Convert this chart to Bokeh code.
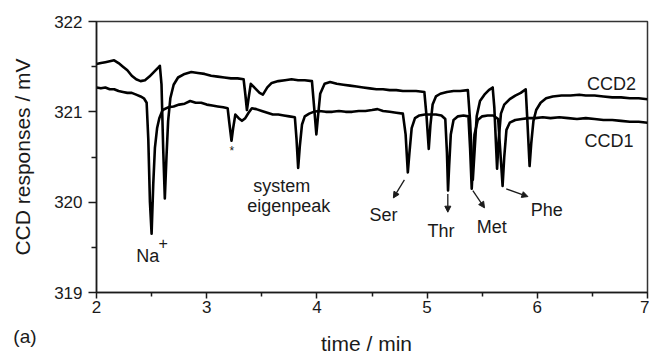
import math
from bokeh.plotting import figure
from bokeh.models import Range1d, Label, Arrow, NormalHead, FixedTicker
from bokeh.embed import file_html
from bokeh.resources import INLINE

# ---------------- data ----------------
t1 = [2.00, 2.04, 2.08, 2.12, 2.16, 2.20, 2.24, 2.28, 2.32, 2.36, 2.40, 2.43, 2.455, 2.47, 2.485,
      2.50, 2.515, 2.53, 2.55, 2.57, 2.60, 2.65, 2.70, 2.75, 2.80, 2.85, 2.90, 2.95, 3.00, 3.05,
      3.10, 3.15, 3.19, 3.205, 3.225, 3.24, 3.26, 3.29, 3.32, 3.35, 3.38, 3.41, 3.45, 3.50, 3.55,
      3.60, 3.65, 3.70, 3.75, 3.80, 3.815, 3.83, 3.845, 3.865, 3.89, 3.93, 3.97, 4.02, 4.08, 4.14,
      4.20, 4.26, 4.32, 4.38, 4.44, 4.50, 4.55, 4.60, 4.66, 4.72, 4.78, 4.805, 4.825, 4.84, 4.86,
      4.89, 4.93, 4.98, 5.03, 5.08, 5.13, 5.165, 5.18, 5.19, 5.20, 5.215, 5.24, 5.28, 5.33, 5.375,
      5.39, 5.405, 5.415, 5.43, 5.46, 5.50, 5.55, 5.60, 5.645, 5.665, 5.685, 5.70, 5.72, 5.75, 5.80,
      5.86, 5.92, 5.98, 6.05, 6.12, 6.20, 6.28, 6.36, 6.44, 6.52, 6.60, 6.68, 6.76, 6.84, 6.92, 7.00]
ccd1 = [321.27, 321.26, 321.27, 321.25, 321.25, 321.23, 321.22, 321.21, 321.21, 321.19, 321.17, 321.15,
        321.10, 320.70, 320.00, 319.65, 320.20, 320.60, 320.82, 320.93, 321.02, 321.05, 321.06, 321.08,
        321.09, 321.12, 321.10, 321.10, 321.08, 321.07, 321.06, 321.05, 321.04, 320.88, 320.68, 320.82,
        320.97, 320.93, 320.90, 320.93, 320.99, 321.04, 321.03, 321.01, 320.99, 320.97, 320.97, 320.96,
        320.95, 320.94, 320.70, 320.38, 320.62, 320.86, 320.95, 320.98, 321.00, 321.01, 321.00, 321.00,
        321.01, 321.00, 321.00, 321.01, 321.01, 321.02, 321.03, 321.01, 321.00, 320.99, 320.98, 320.75,
        320.33, 320.55, 320.82, 320.93, 320.96, 320.97, 320.97, 320.97, 320.96, 320.92, 320.55, 320.13,
        320.40, 320.75, 320.91, 320.95, 320.96, 320.95, 320.60, 320.15, 320.40, 320.75, 320.91, 320.95,
        320.96, 320.96, 320.92, 320.55, 320.18, 320.50, 320.80, 320.88, 320.91, 320.92, 320.93, 320.93,
        320.94, 320.93, 320.94, 320.93, 320.92, 320.93, 320.92, 320.91, 320.91, 320.90, 320.89, 320.89,
        320.88]

t2 = [2.00, 2.04, 2.08, 2.12, 2.16, 2.20, 2.24, 2.28, 2.32, 2.36, 2.40, 2.44, 2.48, 2.52, 2.56, 2.575,
      2.59, 2.605, 2.62, 2.635, 2.65, 2.67, 2.70, 2.74, 2.80, 2.86, 2.92, 2.98, 3.04, 3.10, 3.16, 3.22,
      3.28, 3.335, 3.35, 3.365, 3.38, 3.40, 3.44, 3.48, 3.51, 3.55, 3.59, 3.65, 3.71, 3.77, 3.83, 3.89,
      3.955, 3.975, 3.995, 4.01, 4.03, 4.07, 4.12, 4.18, 4.24, 4.30, 4.36, 4.42, 4.48, 4.54, 4.60, 4.66,
      4.72, 4.78, 4.84, 4.90, 4.975, 4.995, 5.015, 5.03, 5.05, 5.08, 5.12, 5.18, 5.24, 5.30, 5.37, 5.39,
      5.415, 5.43, 5.45, 5.48, 5.52, 5.56, 5.595, 5.61, 5.635, 5.65, 5.67, 5.70, 5.75, 5.80, 5.85, 5.895,
      5.91, 5.93, 5.945, 5.965, 5.99, 6.03, 6.08, 6.14, 6.22, 6.30, 6.38, 6.44, 6.52, 6.60, 6.68, 6.76,
      6.84, 6.92, 7.00]
ccd2 = [321.53, 321.54, 321.55, 321.56, 321.57, 321.54, 321.50, 321.46, 321.40, 321.36, 321.34, 321.35,
        321.39, 321.44, 321.49, 321.51, 321.30, 320.60, 320.04, 320.50, 320.90, 321.15, 321.30, 321.38,
        321.42, 321.44, 321.43, 321.42, 321.40, 321.39, 321.38, 321.37, 321.37, 321.36, 321.20, 321.02,
        321.15, 321.31, 321.26, 321.21, 321.19, 321.27, 321.32, 321.34, 321.35, 321.36, 321.35, 321.35,
        321.34, 321.05, 320.75, 320.95, 321.20, 321.31, 321.33, 321.31, 321.30, 321.29, 321.28, 321.27,
        321.26, 321.25, 321.25, 321.24, 321.24, 321.23, 321.23, 321.23, 321.22, 320.95, 320.59, 320.85,
        321.08, 321.17, 321.20, 321.22, 321.23, 321.23, 321.24, 320.90, 320.25, 320.55, 320.95, 321.12,
        321.19, 321.24, 321.27, 321.05, 320.37, 320.70, 320.98, 321.08, 321.14, 321.18, 321.21, 321.25,
        320.90, 320.40, 320.65, 320.90, 321.02, 321.10, 321.15, 321.17, 321.18, 321.18, 321.19, 321.18,
        321.18, 321.17, 321.16, 321.16, 321.15, 321.15, 321.14]

x_ticks = [2, 3, 4, 5, 6, 7]
x_minor = [2.5, 3.5, 4.5, 5.5, 6.5]
y_ticks = [319, 320, 321, 322]
y_minor = [319.5, 320.5, 321.5]

peak_labels = ["Na", "+", "*", "system", "eigenpeak", "Ser", "Thr", "Met", "Phe", "CCD2", "CCD1"]

# ---------------- figure ----------------
FONT = "Liberation Sans"
INK = "#1a1a1a"

p = figure(width=649, height=356, output_backend="svg", toolbar_location=None,
           x_range=Range1d(2, 7), y_range=Range1d(319, 322),
           min_border_left=96, min_border_right=2, min_border_top=20, min_border_bottom=64)
p.background_fill_color = "white"
p.border_fill_color = "white"
p.grid.visible = False
p.outline_line_color = "#333333"
p.outline_line_width = 1.5

p.xaxis.ticker = FixedTicker(ticks=x_ticks, minor_ticks=x_minor)
p.yaxis.ticker = FixedTicker(ticks=y_ticks, minor_ticks=y_minor)
for ax in (p.xaxis[0], p.yaxis[0]):
    ax.axis_line_color = INK
    ax.axis_line_width = 1.5
    ax.major_tick_line_color = INK
    ax.major_tick_line_width = 1.5
    ax.minor_tick_line_color = INK
    ax.minor_tick_line_width = 1.5
    ax.major_tick_in = 0
    ax.minor_tick_in = 0
    ax.major_label_text_font = FONT
    ax.major_label_text_font_size = "17px"
    ax.major_label_text_color = INK
    ax.axis_label_text_font = FONT
    ax.axis_label_text_font_size = "21px"
    ax.axis_label_text_font_style = "normal"
    ax.axis_label_text_color = INK
p.xaxis.major_tick_out = 6
p.xaxis.minor_tick_out = 4
p.yaxis.major_tick_out = 8
p.yaxis.minor_tick_out = 5
p.xaxis.major_label_standoff = 2
p.yaxis.major_label_standoff = 6
p.yaxis.axis_label = "CCD responses / mV"
p.yaxis.axis_label_standoff = 17

p.line(t2, ccd2, line_color="black", line_width=2.6, line_join="round")
p.line(t1, ccd1, line_color="black", line_width=2.6, line_join="round")

def lab(text, x, y, size="18px", align="center", baseline="alphabetic", angle=0.0):
    return Label(x=x, y=y, text=text, text_font=FONT, text_font_size=size,
                 text_color=INK, text_align=align, text_baseline=baseline, angle=angle)

# peak annotations (data coordinates)
label_pos = [(2.464, 319.40, "18px", "alphabetic"), (2.605, 319.55, "16px", "middle"),
             (3.227, 320.57, "12px", "middle"), (3.68, 320.175, "18px", "alphabetic"),
             (3.745, 319.963, "18px", "alphabetic"), (4.605, 319.853, "18px", "alphabetic"),
             (5.127, 319.68, "18px", "alphabetic"), (5.586, 319.724, "18px", "alphabetic"),
             (6.086, 319.915, "18px", "alphabetic"), (6.673, 321.303, "18px", "alphabetic"),
             (6.65, 320.678, "18px", "alphabetic")]
for txt, (lx, ly, sz, bl) in zip(peak_labels, label_pos):
    p.add_layout(lab(txt, lx, ly, size=sz, baseline=bl))

arrows = [((4.794, 320.246), (4.694, 320.047)),
          ((5.188, 320.091), (5.188, 319.889)),
          ((5.415, 320.128), (5.521, 319.937)),
          ((5.718, 320.147), (5.915, 320.062))]
for (xs, ys), (xe, ye) in arrows:
    p.add_layout(Arrow(x_start=xs, y_start=ys, x_end=xe, y_end=ye, line_width=1.3, line_color=INK,
                       end=NormalHead(size=6, fill_color=INK, line_color=INK, line_width=1)))

# texts outside the frame: held by side panels (which have slack) so they are not clipped;
# their positions still follow the data scales
p.add_layout(lab("(a)", 1.351, 318.51, size="19px"), "above")
p.add_layout(lab("time / min", 4.45, 318.43, size="21px"), "below")

open("out.html", "w").write(file_html(p, INLINE))
